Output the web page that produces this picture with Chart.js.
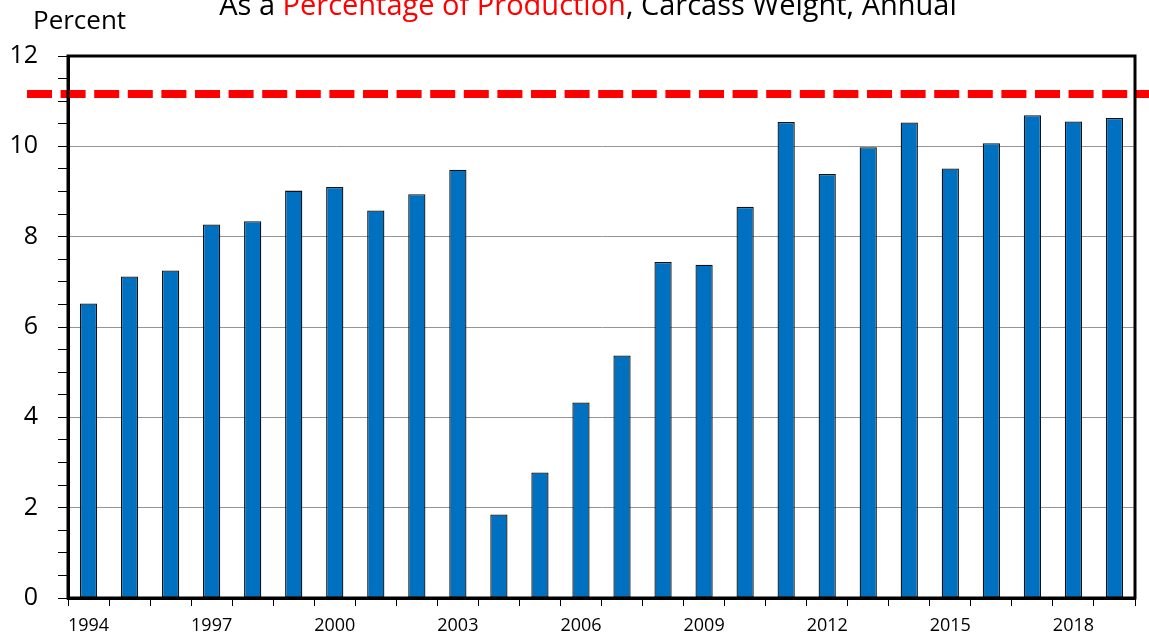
<!DOCTYPE html>
<html>
<head>
<meta charset="utf-8">
<script src="https://cdn.jsdelivr.net/npm/chart.js@4/dist/chart.umd.min.js"></script>
<style>
  html, body { margin: 0; padding: 0; background: #fff; }
  #c { display: block; }
</style>
</head>
<body>
<canvas id="c" width="1149" height="636"></canvas>
<script>
// ---- data ----
const years = ["1994","1995","1996","1997","1998","1999","2000","2001","2002","2003","2004","2005","2006",
               "2007","2008","2009","2010","2011","2012","2013","2014","2015","2016","2017","2018","2019"];
const percentValues = [6.52, 7.12, 7.25, 8.27, 8.34, 9.02, 9.10, 8.58, 8.94, 9.48, 1.85, 2.78, 4.33,
                       5.37, 7.44, 7.38, 8.66, 10.54, 9.39, 9.98, 10.53, 9.51, 10.07, 10.69, 10.55, 10.63];
const referenceLevel = 11.16;
const yTickLabels = [0, 2, 4, 6, 8, 10, 12];
const xLabelEvery = 3;
const titleParts = [
  ["As a ", "#000000"],
  ["Percentage of Production", "#FF0000"],
  [", Carcass Weight, Annual", "#000000"]
];
const yAxisTitle = "Percent";

const FONT = "'Open Sans', 'DejaVu Sans', sans-serif";

const decorPlugin = {
  id: 'decor',
  afterDatasetsDraw(chart) {
    const ctx = chart.ctx;
    const a = chart.chartArea;
    const y = chart.scales.y.getPixelForValue(referenceLevel);
    // red dashed reference line
    ctx.save();
    ctx.strokeStyle = '#FF0000';
    ctx.lineWidth = 8;
    ctx.setLineDash([25, 8.6]);
    ctx.beginPath();
    ctx.moveTo(27, y);
    ctx.lineTo(chart.width, y);
    ctx.stroke();
    ctx.restore();
    // frame
    ctx.save();
    ctx.strokeStyle = '#000';
    ctx.lineWidth = 3;
    ctx.strokeRect(a.left, a.top, a.right - a.left, a.bottom - a.top);
    ctx.restore();
  },
  afterDraw(chart) {
    const ctx = chart.ctx;
    ctx.save();
    // title
    ctx.font = "29px " + FONT;
    ctx.textBaseline = 'alphabetic';
    let total = 0;
    titleParts.forEach(p => total += ctx.measureText(p[0]).width);
    let x = 588 - total / 2;
    titleParts.forEach(p => {
      ctx.fillStyle = p[1];
      ctx.fillText(p[0], x, 15);
      x += ctx.measureText(p[0]).width;
    });
    // axis title
    ctx.font = "26px " + FONT;
    ctx.fillStyle = '#000';
    ctx.textAlign = 'left';
    ctx.fillText(yAxisTitle, 33, 29);
    ctx.restore();
  }
};

new Chart(document.getElementById('c'), {
  type: 'bar',
  data: {
    labels: years,
    datasets: [{
      data: percentValues,
      backgroundColor: '#0070C0',
      borderColor: '#111111',
      borderWidth: 1.3,
      borderSkipped: false,
      categoryPercentage: 1.0,
      barPercentage: 0.42
    }]
  },
  options: {
    responsive: false,
    animation: false,
    devicePixelRatio: 1,
    layout: { padding: { top: 56, right: 14, left: 0, bottom: 0 } },
    plugins: { legend: { display: false }, title: { display: false }, tooltip: { enabled: false } },
    scales: {
      x: {
        offset: true,
        grid: {
          offset: true,
          drawOnChartArea: false,
          drawTicks: true,
          tickLength: 8,
          tickColor: '#000',
          tickWidth: 1
        },
        border: { color: '#000', width: 3 },
        ticks: {
          autoSkip: false,
          maxRotation: 0,
          padding: 9,
          color: '#000',
          font: { family: FONT, size: 18 },
          callback: function(v, i) { return i % xLabelEvery === 0 ? years[i] : ''; }
        },
        afterFit(scale) { scale.height = 38; }
      },
      y: {
        min: 0,
        max: 12,
        grid: {
          color: ctx => (ctx.tick && yTickLabels.includes(ctx.tick.value) && ctx.tick.value !== 0 && ctx.tick.value !== 12) ? '#959595' : 'rgba(0,0,0,0)',
          lineWidth: 1,
          drawTicks: true,
          tickLength: 10,
          tickColor: '#000',
          tickWidth: 1
        },
        border: { color: '#000', width: 3 },
        ticks: {
          stepSize: 0.5,
          autoSkip: false,
          padding: 20,
          color: '#000',
          font: { family: FONT, size: 25 },
          callback: v => yTickLabels.includes(v) ? String(v) : ''
        },
        afterFit(scale) { scale.width = 68; }
      }
    }
  },
  plugins: [decorPlugin]
});
</script>
</body>
</html>
